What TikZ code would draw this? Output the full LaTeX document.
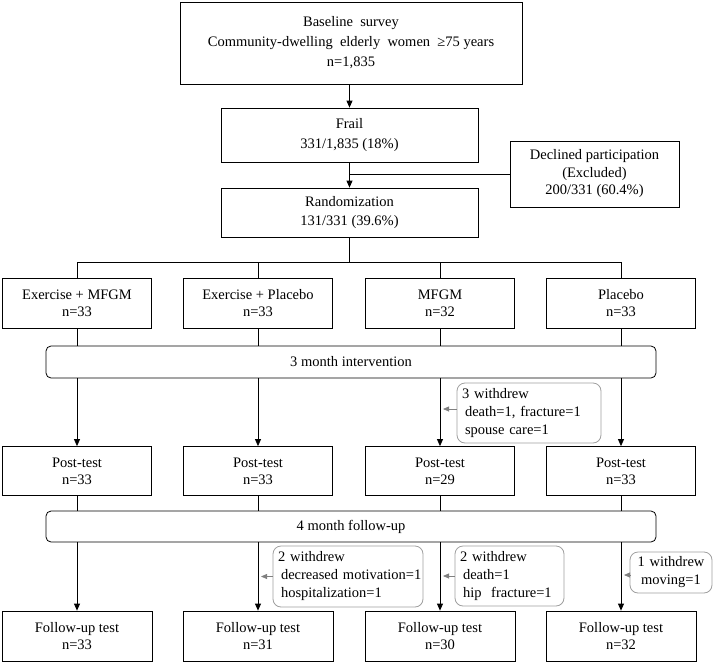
\documentclass[tikz,border=0pt]{standalone}
\usepackage{fontspec}
\setmainfont{Liberation Serif}
\usetikzlibrary{arrows.meta}
\begin{document}
\begin{tikzpicture}[x=1pt,y=-1pt,
  box/.style={draw, line width=0.8pt, inner sep=0pt, align=center, font=\fontsize{14.5}{17}\selectfont},
  band/.style={draw, rounded corners=5pt, line width=0.8pt, inner sep=0pt, font=\fontsize{14.5}{17}\selectfont},
  wbox/.style={draw=gray!75, rounded corners=8pt, line width=0.8pt, inner xsep=5pt, inner ysep=0pt, align=left, font=\fontsize{14.5}{18}\selectfont},
  link/.style={line width=0.8pt},
  arr/.style={line width=0.8pt, -{Triangle[length=7pt,width=6pt]}},
  garr/.style={draw=gray, line width=0.8pt, -{Triangle[length=6pt,width=5pt]}, shorten >=3pt},
]
\useasboundingbox (0,0) rectangle (713,662);

% top part
\node[box, minimum width=342pt, minimum height=82pt, font=\fontsize{14.5}{20}\selectfont] (base) at (351,43)
  {Baseline\ \ survey\\Community-dwelling\ \ elderly\ \ women\ \ ≥75 years\\n=1,835};
\node[box, minimum width=257pt, minimum height=54pt, font=\fontsize{14.5}{20}\selectfont] (frail) at (349.5,135)
  {Frail\\331/1,835 (18\%)};
\node[box, minimum width=257pt, minimum height=49pt, font=\fontsize{14.5}{19}\selectfont] (rand) at (349.5,212.5)
  {Randomization\\131/331 (39.6\%)};
\node[box, minimum width=169pt, minimum height=66pt, font=\fontsize{14.5}{17.5}\selectfont] (decl) at (594.5,174)
  {Declined participation\\(Excluded)\\200/331 (60.4\%)};

% groups
\node[box, minimum width=149pt, minimum height=50pt] (g1) at (77,303) {Exercise + MFGM\\n=33};
\node[box, minimum width=149pt, minimum height=50pt] (g2) at (258,303) {Exercise + Placebo\\n=33};
\node[box, minimum width=149pt, minimum height=50pt] (g3) at (440,303) {MFGM\\n=32};
\node[box, minimum width=149pt, minimum height=50pt] (g4) at (621,303) {Placebo\\n=33};

\node[band, minimum width=610pt, minimum height=32pt] (int) at (351,362) {3 month intervention};

% post-test
\node[box, minimum width=149pt, minimum height=49pt] (p1) at (77,471) {Post-test\\n=33};
\node[box, minimum width=149pt, minimum height=49pt] (p2) at (258,471) {Post-test\\n=33};
\node[box, minimum width=149pt, minimum height=49pt] (p3) at (440,471) {Post-test\\n=29};
\node[box, minimum width=149pt, minimum height=49pt] (p4) at (621,471) {Post-test\\n=33};

\node[band, minimum width=610pt, minimum height=31pt] (fu) at (351,526.5) {4 month follow-up};

% follow-up tests
\node[box, minimum width=150pt, minimum height=50pt] (f1) at (77,636) {Follow-up test\\n=33};
\node[box, minimum width=150pt, minimum height=50pt] (f2) at (258,636) {Follow-up test\\n=31};
\node[box, minimum width=150pt, minimum height=50pt] (f3) at (440,636) {Follow-up test\\n=30};
\node[box, minimum width=150pt, minimum height=50pt] (f4) at (621,636) {Follow-up test\\n=32};

% withdrawal boxes
\node[wbox, text width=134pt, minimum height=60pt] (w1) at (529,413)
  {3 withdrew\\\hspace*{3pt}death=1, fracture=1\\\hspace*{3pt}spouse care=1};
\node[wbox, text width=140pt, minimum height=61pt] (w2) at (348,576.5)
  {2 withdrew\\\hspace*{3pt}\mbox{decreased motivation=1}\\\hspace*{3pt}hospitalization=1};
\node[wbox, text width=99pt, minimum height=60pt] (w3) at (509.5,576)
  {2 withdrew\\\hspace*{3pt}death=1\\\hspace*{3pt}hip\ \ fracture=1};
\node[wbox, align=center, inner xsep=3pt, text width=76pt, minimum height=41pt] (w4) at (671,572.5)
  {1 withdrew\\moving=1};

% connectors top
\draw[arr] (base.south -| frail.north) -- (frail.north);
\draw[arr] (frail.south) -- (rand.north);
\draw[link] (decl.west) -- (decl.west -| frail.south);
\coordinate (br) at (349.5,262);
\draw[link] (rand.south) -- (br);
\draw[link] (g1.north |- br) -- (g4.north |- br);
\foreach \g in {g1,g2,g3,g4}{
  \draw[link] (\g.north |- br) -- (\g.north);
  \draw[link] (\g.south) -- (\g.south |- int.north);
}
\foreach \g/\p in {g1/p1,g2/p2,g3/p3,g4/p4}{
  \draw[arr] (int.south -| \g.south) -- (\p.north);
}
\foreach \p/\f in {p1/f1,p2/f2,p3/f3,p4/f4}{
  \draw[link] (\p.south) -- (\p.south |- fu.north);
  \draw[arr] (fu.south -| \p.south) -- (\f.north);
}

% withdrawal arrows
\draw[garr] (w1.west) ++(0,-4) coordinate (w1a) -- (w1a -| p3.north);
\draw[garr] (w2.west) -- (w2.west -| p2.south);
\draw[garr] (w3.west) -- (w3.west -| p3.south);
\draw[garr] (w4.west) ++(0,2.5) coordinate (w4a) -- (w4a -| p4.south);
\end{tikzpicture}
\end{document}
